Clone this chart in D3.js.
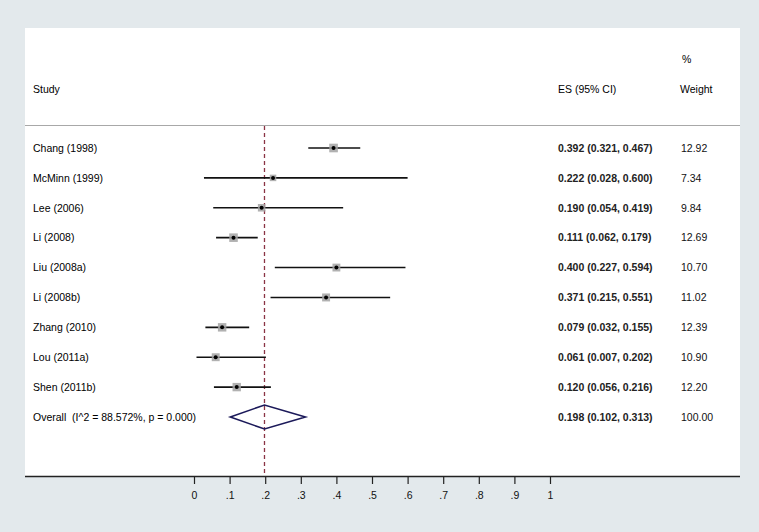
<!DOCTYPE html>
<html><head><meta charset="utf-8">
<script src="https://cdn.jsdelivr.net/npm/d3@7/dist/d3.min.js"></script>
<style>body{margin:0;background:#e3e9ec;}svg{display:block;font-family:"Liberation Sans",Arial,sans-serif;}text{white-space:pre;}</style>
</head><body><svg id="c" width="759" height="532"></svg>
<script>
const studies = ["Chang (1998)","McMinn (1999)","Lee (2006)","Li (2008)","Liu (2008a)","Li (2008b)","Zhang (2010)","Lou (2011a)","Shen (2011b)"];
const es = [0.392,0.222,0.190,0.111,0.400,0.371,0.079,0.061,0.120];
const lo = [0.321,0.028,0.054,0.062,0.227,0.215,0.032,0.007,0.056];
const hi = [0.467,0.600,0.419,0.179,0.594,0.551,0.155,0.202,0.216];
const weights = [12.92,7.34,9.84,12.69,10.70,11.02,12.39,10.90,12.20];
const overallLabel = "Overall  (I^2 = 88.572%, p = 0.000)";
const overall = {es:0.198, lo:0.102, hi:0.313, w:100.00};
const ticks = [0,0.1,0.2,0.3,0.4,0.5,0.6,0.7,0.8,0.9,1];

const svg = d3.select("#c");
const fs = 10.5;
svg.append("rect").attr("x",0).attr("y",0).attr("width",759).attr("height",532).attr("fill","#e3e9ec");
svg.append("rect").attr("x",25).attr("y",28).attr("width",715).attr("height",449).attr("fill","#fff");

const x = d3.scaleLinear().domain([0,1]).range([194,550]);
const rows = studies.concat([overallLabel]);
const y = d3.scalePoint().domain(d3.range(rows.length)).range([148,417]);
const fmt = d3.format(".3f");
const fmtW = d3.format(".2f");

// header
svg.append("text").attr("x",33).attr("y",93).attr("font-size",fs).text("Study");
svg.append("text").attr("x",558).attr("y",93).attr("font-size",fs).text("ES (95% CI)");
svg.append("text").attr("x",682).attr("y",63).attr("font-size",fs).text("%");
svg.append("text").attr("x",680).attr("y",93).attr("font-size",fs).text("Weight");
svg.append("line").attr("x1",25).attr("x2",740).attr("y1",125.5).attr("y2",125.5).attr("stroke","#a8a8a8").attr("stroke-width",1.2);

// reference dashed line
svg.append("line").attr("x1",x(overall.es)).attr("x2",x(overall.es)).attr("y1",126).attr("y2",476)
  .attr("stroke","#8a3344").attr("stroke-width",1.3).attr("stroke-dasharray","4,3");

// study rows
const g = svg.append("g");
studies.forEach((s,i)=>{
  const yy = y(i);
  g.append("text").attr("x",33).attr("y",yy+3.8).attr("font-size",fs).text(s);
  g.append("line").attr("x1",x(lo[i])).attr("x2",x(hi[i])).attr("y1",yy).attr("y2",yy).attr("stroke","#111").attr("stroke-width",1.6);
  const sz = 2.4*Math.sqrt(weights[i]);
  g.append("rect").attr("x",x(es[i])-sz/2).attr("y",yy-sz/2).attr("width",sz).attr("height",sz).attr("fill","#a3a3a3").attr("opacity",0.85);
  g.append("circle").attr("cx",x(es[i])).attr("cy",yy).attr("r",2).attr("fill","#000");
  g.append("text").attr("x",558).attr("y",yy+3.8).attr("font-size",fs).attr("font-weight","bold").attr("fill","#222").text(`${fmt(es[i])} (${fmt(lo[i])}, ${fmt(hi[i])})`);
  g.append("text").attr("x",681).attr("y",yy+3.8).attr("font-size",fs).attr("fill","#111").text(fmtW(weights[i]));
});

// overall
const yo = y(rows.length-1);
svg.append("text").attr("x",33).attr("y",yo+3.8).attr("font-size",fs).text(overallLabel);
svg.append("path").attr("d",`M${x(overall.lo)},${yo} L${x(overall.es)},${yo-12} L${x(overall.hi)},${yo} L${x(overall.es)},${yo+12} Z`)
  .attr("fill","none").attr("stroke","#1c1a5a").attr("stroke-width",1.6);
svg.append("text").attr("x",558).attr("y",yo+3.8).attr("font-size",fs).attr("font-weight","bold").attr("fill","#222").text(`${fmt(overall.es)} (${fmt(overall.lo)}, ${fmt(overall.hi)})`);
svg.append("text").attr("x",681).attr("y",yo+3.8).attr("font-size",fs).attr("fill","#111").text(fmtW(overall.w));

// axis
svg.append("line").attr("x1",25).attr("x2",740).attr("y1",476.5).attr("y2",476.5).attr("stroke","#222").attr("stroke-width",1.4);
const axis = d3.axisBottom(x).tickValues(ticks).tickSize(7).tickPadding(8)
  .tickFormat(d=> d===0?"0": d===1?"1": d3.format(".1f")(d).replace(/^0/,""));
const ag = svg.append("g").attr("transform","translate(0,477)").call(axis);
ag.select(".domain").remove();
ag.selectAll(".tick line").attr("stroke","#222").attr("stroke-width",1.2);
ag.selectAll(".tick text").attr("font-size",fs).attr("fill","#111").attr("font-family","Liberation Sans, Arial, sans-serif");
</script></body></html>
